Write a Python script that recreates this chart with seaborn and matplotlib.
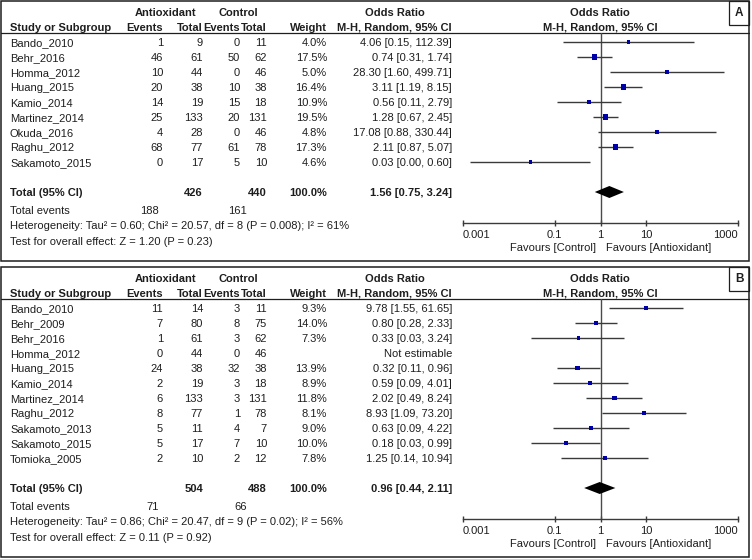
import numpy as np
import pandas as pd
import matplotlib
matplotlib.use("Agg")
import matplotlib.pyplot as plt
import seaborn as sns
from matplotlib.patches import Rectangle

# ---- data: panel A ----
studies_a = ["Bando_2010", "Behr_2016", "Homma_2012", "Huang_2015", "Kamio_2014",
             "Martinez_2014", "Okuda_2016", "Raghu_2012", "Sakamoto_2015"]
ev_t_a = [1, 46, 10, 20, 14, 25, 4, 68, 0]
tot_t_a = [9, 61, 44, 38, 19, 133, 28, 77, 17]
ev_c_a = [0, 50, 0, 10, 15, 20, 0, 61, 5]
tot_c_a = [11, 62, 46, 38, 18, 131, 46, 78, 10]
weight_a = [4.0, 17.5, 5.0, 16.4, 10.9, 19.5, 4.8, 17.3, 4.6]
or_a = [4.06, 0.74, 28.30, 3.11, 0.56, 1.28, 17.08, 2.11, 0.03]
lo_a = [0.15, 0.31, 1.60, 1.19, 0.11, 0.67, 0.88, 0.87, 0.0014]
hi_a = [112.39, 1.74, 499.71, 8.15, 2.79, 2.45, 330.44, 5.07, 0.60]
totals_a = (426, 440)
events_a = (188, 161)
pooled_a = (1.56, 0.75, 3.24)
het_a = "Heterogeneity: Tau² = 0.60; Chi² = 20.57, df = 8 (P = 0.008); I² = 61%"
test_a = "Test for overall effect: Z = 1.20 (P = 0.23)"

# ---- data: panel B ----
studies_b = ["Bando_2010", "Behr_2009", "Behr_2016", "Homma_2012", "Huang_2015", "Kamio_2014",
             "Martinez_2014", "Raghu_2012", "Sakamoto_2013", "Sakamoto_2015", "Tomioka_2005"]
ev_t_b = [11, 7, 1, 0, 24, 2, 6, 8, 5, 5, 2]
tot_t_b = [14, 80, 61, 44, 38, 19, 133, 77, 11, 17, 10]
ev_c_b = [3, 8, 3, 0, 32, 3, 3, 1, 4, 7, 2]
tot_c_b = [11, 75, 62, 46, 38, 18, 131, 78, 7, 10, 12]
weight_b = [9.3, 14.0, 7.3, np.nan, 13.9, 8.9, 11.8, 8.1, 9.0, 10.0, 7.8]
or_b = [9.78, 0.80, 0.33, np.nan, 0.32, 0.59, 2.02, 8.93, 0.63, 0.18, 1.25]
lo_b = [1.55, 0.28, 0.03, np.nan, 0.11, 0.09, 0.49, 1.09, 0.09, 0.03, 0.14]
hi_b = [61.65, 2.33, 3.24, np.nan, 0.96, 4.01, 8.24, 73.20, 4.22, 0.99, 10.94]
totals_b = (504, 488)
events_b = (71, 66)
pooled_b = (0.96, 0.44, 2.11)
het_b = "Heterogeneity: Tau² = 0.86; Chi² = 20.47, df = 9 (P = 0.02); I² = 56%"
test_b = "Test for overall effect: Z = 0.11 (P = 0.92)"

tick_vals = [0.001, 0.1, 1, 10, 1000]
tick_labels = ["0.001", "0.1", "1", "10", "1000"]

sns.set_theme(style="white")
plt.rcParams["font.family"] = ["Liberation Sans", "DejaVu Sans"]

W, H = 752, 559
FS = 8.0
INK = "#1e1e1e"
SQUARE = "#0000a8"
LINE = "#3a3a3a"
BL = 4  # baseline offset so text is centred on its row


def draw_panel(fig, base, top, label, studies, ev_t, tot_t, ev_c, tot_c, weight,
               odds, lo, hi, totals, events, pooled, het, test):
    n = len(studies)
    rows = top + 41 + 15 * np.arange(n)
    total_y = rows[-1] + 30
    axis_y = total_y + 31
    bottom = total_y + 69
    hdr_line = top + 32

    # frame, header rule and panel label
    base.add_patch(Rectangle((1, top), 748, bottom - top, fill=False, ec=INK, lw=1.1))
    base.plot([1, 749], [hdr_line, hdr_line], color=INK, lw=0.9)
    base.add_patch(Rectangle((729, top), 20, 24, fill=False, ec=INK, lw=0.9))
    base.text(739, top + 12, label, ha="center", va="center", fontsize=8.5,
              fontweight="bold", color=INK)

    bold = dict(fontsize=FS, fontweight="bold", color=INK, va="baseline")
    y1, y2 = top + 11 + BL, top + 26 + BL
    base.text(166, y1, "Antioxidant", ha="center", **bold)
    base.text(238, y1, "Control", ha="center", **bold)
    base.text(395, y1, "Odds Ratio", ha="center", **bold)
    base.text(600, y1, "Odds Ratio", ha="center", **bold)
    base.text(10, y2, "Study or Subgroup", ha="left", **bold)
    base.text(163, y2, "Events", ha="right", **bold)
    base.text(203, y2, "Total", ha="right", **bold)
    base.text(240, y2, "Events", ha="right", **bold)
    base.text(267, y2, "Total", ha="right", **bold)
    base.text(327, y2, "Weight", ha="right", **bold)
    base.text(452, y2, "M-H, Random, 95% CI", ha="right", **bold)
    base.text(600, y2, "M-H, Random, 95% CI", ha="center", **bold)

    norm = dict(fontsize=FS, color=INK, va="baseline")
    for i in range(n):
        y = rows[i] + BL
        base.text(10, y, studies[i], ha="left", **norm)
        base.text(163, y, str(ev_t[i]), ha="right", **norm)
        base.text(203, y, str(tot_t[i]), ha="right", **norm)
        base.text(240, y, str(ev_c[i]), ha="right", **norm)
        base.text(267, y, str(tot_c[i]), ha="right", **norm)
        if np.isnan(odds[i]):
            base.text(452, y, "Not estimable", ha="right", **norm)
        else:
            base.text(327, y, f"{weight[i]:.1f}%", ha="right", **norm)
            base.text(452, y, f"{odds[i]:.2f} [{lo[i]:.2f}, {hi[i]:.2f}]", ha="right", **norm)

    ty = total_y + BL
    base.text(10, ty, "Total (95% CI)", ha="left", **bold)
    base.text(203, ty, str(totals[0]), ha="right", **bold)
    base.text(267, ty, str(totals[1]), ha="right", **bold)
    base.text(327, ty, "100.0%", ha="right", **bold)
    base.text(452, ty, f"{pooled[0]:.2f} [{pooled[1]:.2f}, {pooled[2]:.2f}]", ha="right", **bold)
    base.text(10, ty + 18, "Total events", ha="left", **norm)
    base.text(159, ty + 18, str(events[0]), ha="right", **norm)
    base.text(247, ty + 18, str(events[1]), ha="right", **norm)
    base.text(10, ty + 33, het, ha="left", **norm)
    base.text(10, ty + 49, test, ha="left", **norm)
    base.text(596, axis_y + 24 + BL, "Favours [Control]", ha="right", **norm)
    base.text(606, axis_y + 24 + BL, "Favours [Antioxidant]", ha="left", **norm)

    # forest plot area (log odds-ratio scale)
    ax = fig.add_axes([463 / W, 1 - axis_y / H, 275 / W, (axis_y - hdr_line) / H])
    ax.set_xscale("log")
    ax.set_xlim(tick_vals[0], tick_vals[-1])
    ax.set_ylim(axis_y, hdr_line)
    ax.patch.set_alpha(0)
    for side in ["top", "left", "right"]:
        ax.spines[side].set_visible(False)
    ax.spines["bottom"].set_color(LINE)
    ax.spines["bottom"].set_linewidth(1.0)
    ax.set_xticks(tick_vals)
    ax.set_xticklabels(tick_labels)
    ax.xaxis.set_minor_locator(matplotlib.ticker.NullLocator())
    ax.tick_params(axis="x", direction="inout", length=5, width=1.0, color=LINE,
                   labelsize=FS, labelcolor=INK, pad=2.5, bottom=True)
    labels = ax.get_xticklabels()
    labels[0].set_ha("left")
    labels[-1].set_ha("right")
    ax.set_yticks([])
    ax.axvline(1, color="#4a4a4a", lw=1.0)

    df = pd.DataFrame({"y": rows, "or": odds, "lo": lo, "hi": hi, "w": weight}).dropna()
    ax.hlines(df["y"], df["lo"], df["hi"], color=LINE, lw=1.0)
    wmin, wmax = df["w"].min(), df["w"].max()
    sns.scatterplot(data=df, x="or", y="y", size="w",
                    sizes=(2.5 + 0.65 * wmin, 2.5 + 0.65 * wmax),
                    size_norm=(wmin, wmax), marker="s", color=SQUARE, linewidth=0,
                    legend=False, ax=ax, zorder=3)
    ax.set_xlabel("")
    ax.set_ylabel("")

    est, low, high = pooled
    ax.fill([low, est, high, est], [total_y, total_y - 6, total_y, total_y + 6],
            color="black", lw=0, zorder=4)


fig = plt.figure(figsize=(W / 100, H / 100), dpi=100)
base = fig.add_axes([0, 0, 1, 1])
base.set_xlim(0, W)
base.set_ylim(H, 0)
base.axis("off")

draw_panel(fig, base, 1, "A", studies_a, ev_t_a, tot_t_a, ev_c_a, tot_c_a, weight_a,
           or_a, lo_a, hi_a, totals_a, events_a, pooled_a, het_a, test_a)
draw_panel(fig, base, 267, "B", studies_b, ev_t_b, tot_t_b, ev_c_b, tot_c_b, weight_b,
           or_b, lo_b, hi_b, totals_b, events_b, pooled_b, het_b, test_b)

fig.savefig("out.png", dpi=100, facecolor="white")
plt.close(fig)
